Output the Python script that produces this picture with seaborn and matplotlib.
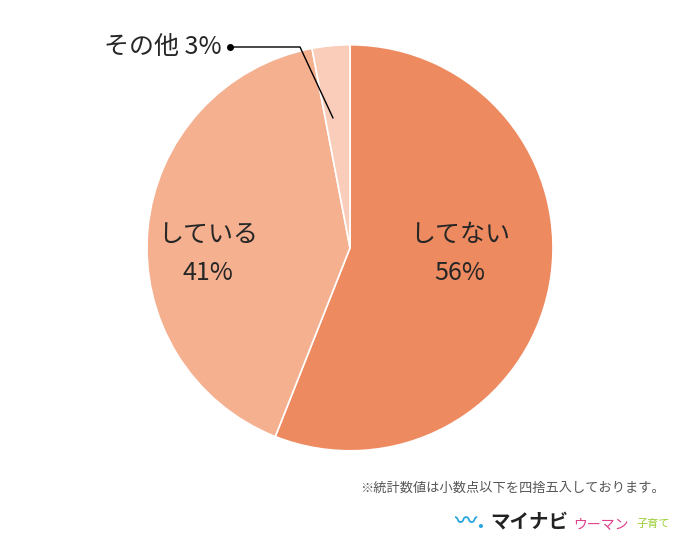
import matplotlib
matplotlib.use("Agg")
import matplotlib.pyplot as plt
import seaborn as sns

sns.set_style("white")
plt.rcParams["font.family"] = "Noto Sans CJK JP"

labels = ["してない", "している", "その他"]
values = [56, 41, 3]
colors = ["#EE8A60", "#F4B08F", "#F9CDB9"]

fig = plt.figure(figsize=(7, 5.6), dpi=100)
ax = fig.add_axes([0.21, 0.195, 0.58, 0.725])
wedges, _ = ax.pie(values, colors=colors, startangle=90, counterclock=False,
                   wedgeprops=dict(linewidth=1.2, edgecolor="white"))
ax.set_xlim(-1, 1)
ax.set_ylim(-1, 1)
ax.set_aspect("equal")

ax.text(0.54, -0.03, f"{labels[0]}\n{values[0]}%", ha="center", va="center",
        fontsize=18, linespacing=1.6)
ax.text(-0.70, -0.03, f"{labels[1]}\n{values[1]}%", ha="center", va="center",
        fontsize=18, linespacing=1.6)

# leader line for the small slice
fig.lines.append(plt.Line2D([230 / 700, 300 / 700, 333 / 700],
                            [1 - 47 / 560, 1 - 47 / 560, 1 - 118 / 560],
                            transform=fig.transFigure, color="black", lw=1))
fig.lines.append(plt.Line2D([230 / 700], [1 - 47 / 560], marker="o", ms=4,
                            color="black", transform=fig.transFigure))
fig.text(222 / 700, 1 - 47 / 560, f"{labels[2]} {values[2]}%", ha="right",
         va="center", fontsize=18)

fig.text(665 / 700, 1 - 488 / 560, "※統計数値は小数点以下を四捨五入しております。",
         ha="right", va="center", fontsize=9.5, color="#555555")
fig.text(455 / 700, 1 - 522 / 560, "〰.", ha="left", va="center", fontsize=16,
         color="#2AA6DF", fontweight="bold")
fig.text(490 / 700, 1 - 522 / 560, "マイナビ", ha="left", va="center", fontsize=14,
         fontweight="bold", color="#222222")
fig.text(573 / 700, 1 - 524 / 560, "ウーマン", ha="left", va="center", fontsize=10,
         color="#E0408A")
fig.text(636 / 700, 1 - 524 / 560, "子育て", ha="left", va="center", fontsize=8,
         color="#9ACD32")

fig.savefig("out.png", dpi=100)
